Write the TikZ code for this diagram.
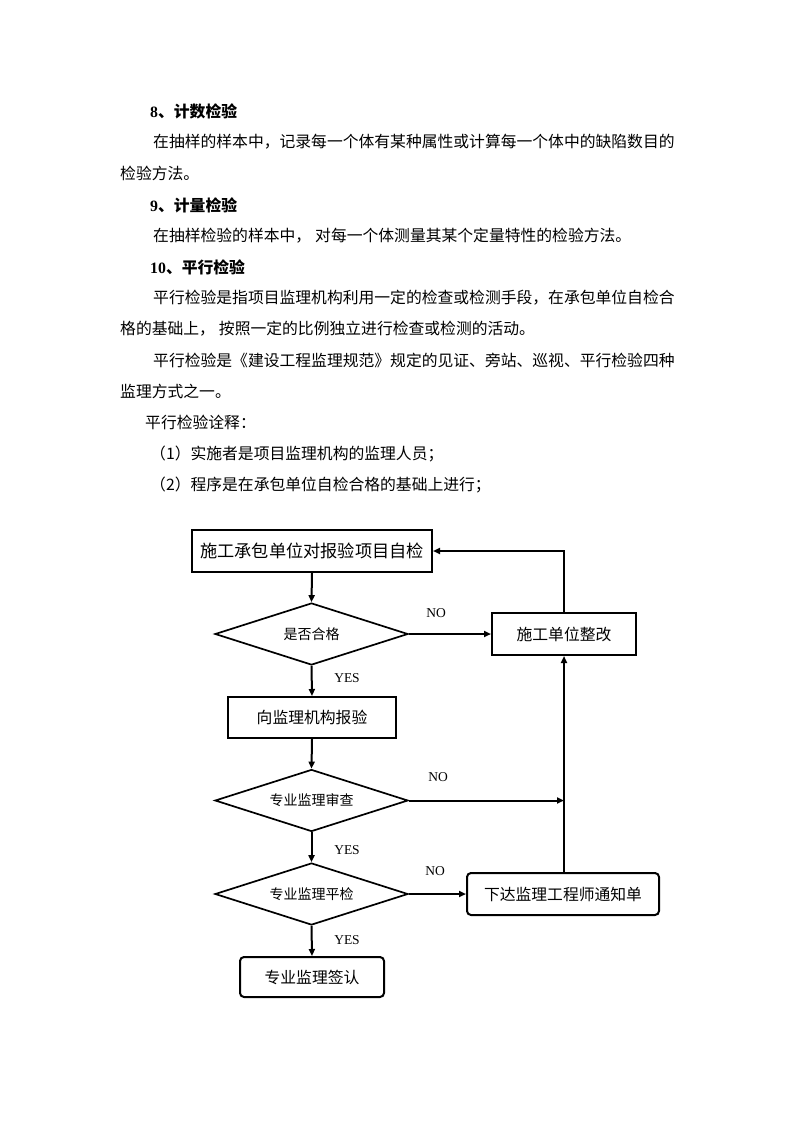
\documentclass[tikz,border=0pt]{standalone}
\usepackage{fontspec}
\setmainfont{Liberation Serif}
\newfontfamily\cjk{Noto Sans CJK SC}
\usetikzlibrary{shapes.geometric,arrows.meta}
\begin{document}
\begin{tikzpicture}[x=1pt,y=-1pt,
  txt/.style={anchor=west,inner sep=0pt,font=\cjk\fontsize{15.8}{18}\selectfont},
  head/.style={anchor=west,inner sep=0pt,font=\fontsize{15.8}{18}\selectfont\bfseries},
  box/.style={draw,line width=2pt,inner sep=0pt,font=\cjk\fontsize{15.8}{18}\selectfont},
  rbox/.style={box,rounded corners=4pt},
  dia/.style={draw,diamond,line width=1.7pt,inner sep=0pt,minimum width=193pt,minimum height=62pt,aspect=3.1,font=\cjk\fontsize{14}{16}\selectfont},
  lbl/.style={inner sep=0pt,font=\fontsize{13.5}{15}\selectfont},
  conn/.style={line width=2pt,-{Triangle[length=7pt,width=6pt]}}]
\useasboundingbox[fill=white] (0,0) rectangle (794,1123);
% text
\node[head] (h8) at (150,111) {8{\cjk\bfseries 、计数检验}};
\node[txt] (t1) at (153,142) {在抽样的样本中，记录每一个体有某种属性或计算每一个体中的缺陷数目的};
\node[txt] (t2) at (120,173) {检验方法。};
\node[head] (h9) at (150,205) {9{\cjk\bfseries 、计量检验}};
\node[txt] (t3) at (153,236) {在抽样检验的样本中，\hspace{4pt}对每一个体测量其某个定量特性的检验方法。};
\node[head] (h10) at (150,267) {10{\cjk\bfseries 、平行检验}};
\node[txt] (t4) at (153,298) {平行检验是指项目监理机构利用一定的检查或检测手段，在承包单位自检合};
\node[txt] (t5) at (120,329) {格的基础上，\hspace{4pt}按照一定的比例独立进行检查或检测的活动。};
\node[txt] (t6) at (153,360) {平行检验是《建设工程监理规范》规定的见证、旁站、巡视、平行检验四种};
\node[txt] (t7) at (120,391) {监理方式之一。};
\node[txt] (t8) at (145,422) {平行检验诠释：};
\node[txt] (t9) at (150,454) {（1）实施者是项目监理机构的监理人员；};
\node[txt] (t10) at (150,485) {（2）程序是在承包单位自检合格的基础上进行；};
% flowchart
\node[box,minimum width=240pt,minimum height=42pt,font=\cjk\fontsize{17.2}{19}\selectfont] (b1) at (312,551) {施工承包单位对报验项目自检};
\node[dia] (d1) at (311.5,634) {是否合格};
\node[box,minimum width=144pt,minimum height=42pt] (b2) at (564,634) {施工单位整改};
\node[box,minimum width=168pt,minimum height=41pt] (b3) at (312,717.5) {向监理机构报验};
\node[dia] (d2) at (311.5,800.5) {专业监理审查};
\node[dia] (d3) at (311.5,894) {专业监理平检};
\node[rbox,minimum width=192pt,minimum height=42pt] (b4) at (563,894) {下达监理工程师通知单};
\node[rbox,minimum width=144pt,minimum height=40pt] (b5) at (312,977) {专业监理签认};
\coordinate (j1) at (564,800.5);
\coordinate (up) at (564,551);
% connectors
\draw[conn] (b1.south) -- (d1.north);
\draw[conn] (d1.east) -- (b2.west);
\draw[conn] (b2.north) -- (up) -- (b1.east);
\draw[conn] (d1.south) -- (b3.north);
\draw[conn] (b3.south) -- (d2.north);
\draw[conn] (d2.east) -- (j1);
\draw[conn] (d2.south) -- (d3.north);
\draw[conn] (d3.east) -- (b4.west);
\draw[conn] (b4.north -| b2.south) -- (b2.south);
\draw[conn] (d3.south) -- (b5.north);
% labels
\node[lbl] (n1) at (436,613) {NO};
\node[lbl] (y1) at (347,678) {YES};
\node[lbl] (n2) at (438,777) {NO};
\node[lbl] (y2) at (347,850) {YES};
\node[lbl] (n3) at (435,871) {NO};
\node[lbl] (y3) at (347,940) {YES};
\end{tikzpicture}
\end{document}
